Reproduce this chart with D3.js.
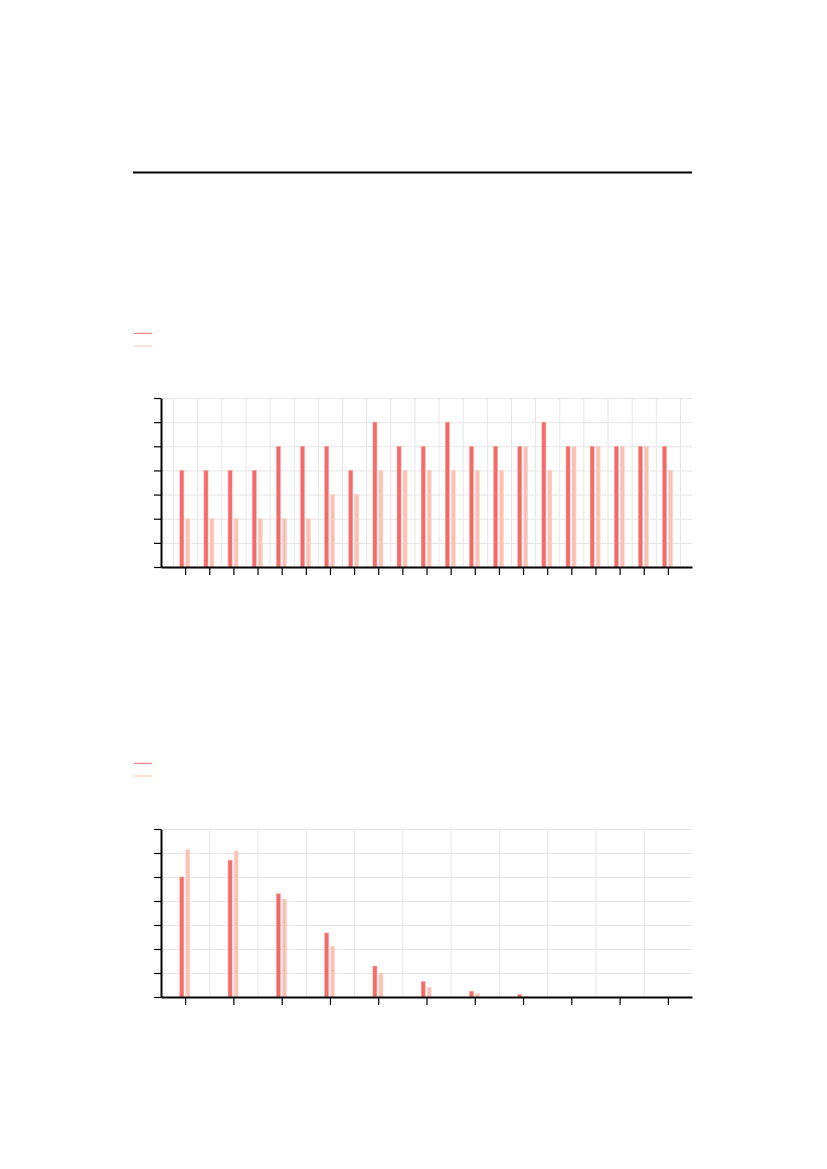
<!DOCTYPE html>
<html>
<head>
<meta charset="utf-8">
<script src="https://cdn.jsdelivr.net/npm/d3@7"></script>
<style>
  body { margin: 0; background: #fff; }
  .grid line { stroke: #e6e6e6; stroke-width: 1; }
  .grid path { display: none; }
  .axis path, .axis line { stroke: #000; }
</style>
</head>
<body>
<div id="vis"></div>
<script>
// chart 1: 21 groups, integer counts
const cats1 = d3.range(0, 21);
const dark1 = [4, 4, 4, 4, 5, 5, 5, 4, 6, 5, 5, 6, 5, 5, 5, 6, 5, 5, 5, 5, 5];
const light1 = [2, 2, 2, 2, 2, 2, 3, 3, 4, 4, 4, 4, 4, 4, 5, 4, 5, 5, 5, 5, 4];

// chart 2: 11 groups, decaying values
const cats2 = d3.range(0, 11);
const dark2 = [5.0, 5.7, 4.3, 2.67, 1.29, 0.64, 0.24, 0.1, 0, 0, 0];
const light2 = [6.14, 6.08, 4.08, 2.11, 1.0, 0.4, 0.14, 0.02, 0, 0, 0];

const yTicks = [0, 1, 2, 3, 4, 5, 6, 7];

const DARK = "#f46a69";
const LIGHT = "#fbc1b5";

const WIDTH = 827, HEIGHT = 1169;
const LEFT = 161, RIGHT = 692;

const svg = d3.select("#vis").append("svg")
    .attr("width", WIDTH)
    .attr("height", HEIGHT);

// rule across the top
svg.append("line")
    .attr("x1", 133).attr("x2", RIGHT)
    .attr("y1", 172.5).attr("y2", 172.5)
    .attr("stroke", "#000").attr("stroke-width", 2);

function drawChart(top, bottom, legendY, cats, dark, light, xDomain, gridVals) {
    const x = d3.scaleLinear()
        .domain(xDomain)
        .range([LEFT, RIGHT]);
    const y = d3.scaleLinear()
        .domain([0, 7])
        .range([bottom, top]);

    // legend swatches (no text)
    [DARK, LIGHT].forEach((c, i) => {
        svg.append("line")
            .attr("x1", 134).attr("x2", 152)
            .attr("y1", legendY + i * 12.7).attr("y2", legendY + i * 12.7)
            .attr("stroke", c).attr("stroke-width", 1);
    });

    // grid
    svg.append("g").attr("class", "grid")
        .attr("transform", "translate(0," + bottom + ")")
        .call(d3.axisBottom(x)
            .tickValues(gridVals)
            .tickSize(-(bottom - top))
            .tickFormat(""));
    svg.append("g").attr("class", "grid")
        .attr("transform", "translate(" + LEFT + ",0)")
        .call(d3.axisLeft(y)
            .tickValues(yTicks)
            .tickSize(-(RIGHT - LEFT))
            .tickFormat(""));

    // bars
    const g = svg.append("g");
    g.selectAll(".dark")
        .data(cats)
        .enter().append("rect")
            .attr("x", d => x(d) - 5.3)
            .attr("width", 4)
            .attr("y", d => y(dark[d]))
            .attr("height", d => bottom - y(dark[d]))
            .attr("fill", DARK)
            .attr("stroke", "#f9a5a0")
            .attr("stroke-width", 0.6);
    g.selectAll(".light")
        .data(cats)
        .enter().append("rect")
            .attr("x", d => x(d) + 0.7)
            .attr("width", 4)
            .attr("y", d => y(light[d]))
            .attr("height", d => bottom - y(light[d]))
            .attr("fill", LIGHT)
            .attr("stroke", "#fcd6cd")
            .attr("stroke-width", 0.6);

    // axes
    svg.append("g").attr("class", "axis")
        .attr("transform", "translate(0," + bottom + ")")
        .call(d3.axisBottom(x).tickValues(cats).tickSize(8).tickSizeOuter(0).tickFormat(""))
        .call(a => a.select(".domain").attr("stroke-width", 2))
        .call(a => a.selectAll(".tick line").attr("stroke-width", 1.2));
    svg.append("g").attr("class", "axis")
        .attr("transform", "translate(" + LEFT + ",0)")
        .call(d3.axisLeft(y).tickValues(yTicks).tickSize(7).tickSizeOuter(0).tickFormat(""))
        .call(a => a.select(".domain").attr("stroke-width", 2))
        .call(a => a.selectAll(".tick line").attr("stroke-width", 1.2));
}

drawChart(398, 567, 333.3, cats1, dark1, light1,
    [-1, 21], cats1.map(d => d - 0.5).concat([20.5]));
drawChart(829, 997, 763.3, cats2, dark2, light2,
    [-0.5, 10.5], cats2.map(d => d + 0.5).slice(0, 10));
</script>
</body>
</html>
